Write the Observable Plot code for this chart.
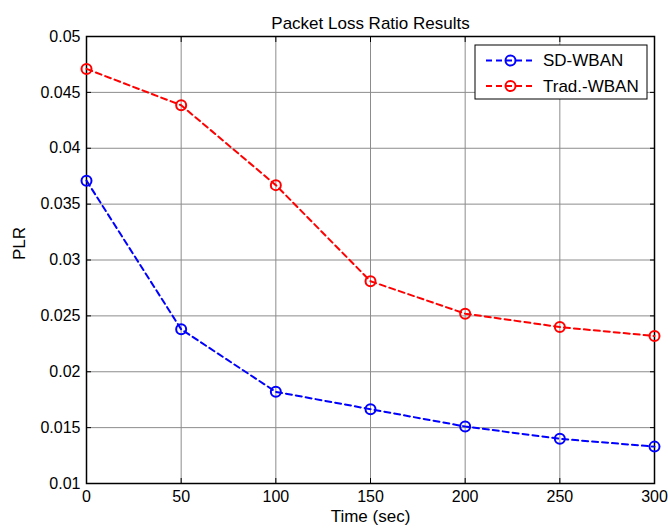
<!DOCTYPE html>
<html><head><meta charset="utf-8">
<script src="https://cdn.jsdelivr.net/npm/d3@7"></script>
<script src="https://cdn.jsdelivr.net/npm/@observablehq/plot@0.6"></script>
<style>body{margin:0;background:#fff}</style>
</head><body><div id="chart"></div>
<script>
const times = [0, 50, 100, 150, 200, 250, 300];
const sdWban = [0.0371, 0.0238, 0.0182, 0.01665, 0.0151, 0.0140, 0.0133];
const tradWban = [0.0471, 0.04385, 0.0367, 0.0281, 0.0252, 0.0240, 0.0232];
const seriesNames = ["SD-WBAN", "Trad.-WBAN"];
const seriesColors = ["#0000ff", "#ff0000"];
const xTicks = [0, 50, 100, 150, 200, 250, 300];
const yTicks = [0.01, 0.015, 0.02, 0.025, 0.03, 0.035, 0.04, 0.045, 0.05];

const rows = [];
times.forEach((t, i) => {
  rows.push({t, v: sdWban[i], s: seriesNames[0]});
  rows.push({t, v: tradWban[i], s: seriesNames[1]});
});
const font = "Liberation Sans, Arial, Helvetica, sans-serif";
const fmtY = d => String(+d.toFixed(3));

const plot = Plot.plot({
  width: 668, height: 532,
  marginLeft: 86, marginRight: 14, marginTop: 36, marginBottom: 49,
  style: {fontFamily: font, fontSize: "16px", color: "#000", background: "#fff"},
  x: {domain: [0, 300]},
  y: {domain: [0.01, 0.05]},
  color: {domain: seriesNames, range: seriesColors},
  marks: [
    Plot.gridX(xTicks, {stroke: "#8c8c8c", strokeOpacity: 1, strokeWidth: 1}),
    Plot.gridY(yTicks, {stroke: "#8c8c8c", strokeOpacity: 1, strokeWidth: 1}),
    Plot.axisX({ticks: xTicks, tickSize: -5, tickPadding: 12, tickFormat: d => String(d), label: null, fontSize: 16}),
    Plot.axisX({ticks: xTicks, anchor: "top", tickSize: -5, tickFormat: () => "", label: null}),
    Plot.axisY({ticks: yTicks, tickSize: -5, tickPadding: 11, tickFormat: fmtY, label: null, fontSize: 16}),
    Plot.axisY({ticks: yTicks, anchor: "right", tickSize: -5, tickFormat: () => "", label: null}),
    Plot.frame({stroke: "#000", strokeWidth: 1.5}),
    Plot.line(rows, {x: "t", y: "v", z: "s", stroke: "s", strokeWidth: 2, strokeDasharray: "6,4"}),
    Plot.dot(rows, {x: "t", y: "v", stroke: "s", r: 5, strokeWidth: 2, fill: "none"}),
    Plot.text(["Packet Loss Ratio Results"], {frameAnchor: "top", dy: -20, fontSize: 17, fill: "#000"}),
    Plot.text(["Time (sec)"], {frameAnchor: "bottom", dy: 38, fontSize: 17, fill: "#000"}),
    Plot.text(["PLR"], {frameAnchor: "left", dx: -67, rotate: -90, fontSize: 17, fill: "#000"})
  ]
});
document.getElementById("chart").appendChild(plot);

// legend
const svg = d3.select(plot);
const lg = svg.append("g").attr("font-family", font).attr("font-size", 17).attr("text-anchor", "start");
lg.append("rect").attr("x", 475).attr("y", 45).attr("width", 172).attr("height", 54)
  .attr("fill", "#fff").attr("stroke", "#000").attr("stroke-width", 1);
seriesNames.forEach((name, i) => {
  const y = 60.5 + i * 25.5;
  lg.append("line").attr("x1", 486).attr("x2", 534).attr("y1", y).attr("y2", y)
    .attr("stroke", seriesColors[i]).attr("stroke-width", 2).attr("stroke-dasharray", "6,4");
  lg.append("circle").attr("cx", 510.5).attr("cy", y).attr("r", 5)
    .attr("fill", "none").attr("stroke", seriesColors[i]).attr("stroke-width", 2);
  lg.append("text").attr("x", 543).attr("y", y).attr("dy", "0.35em").attr("text-anchor", "start").attr("fill", "#000").text(name);
});
</script></body></html>
